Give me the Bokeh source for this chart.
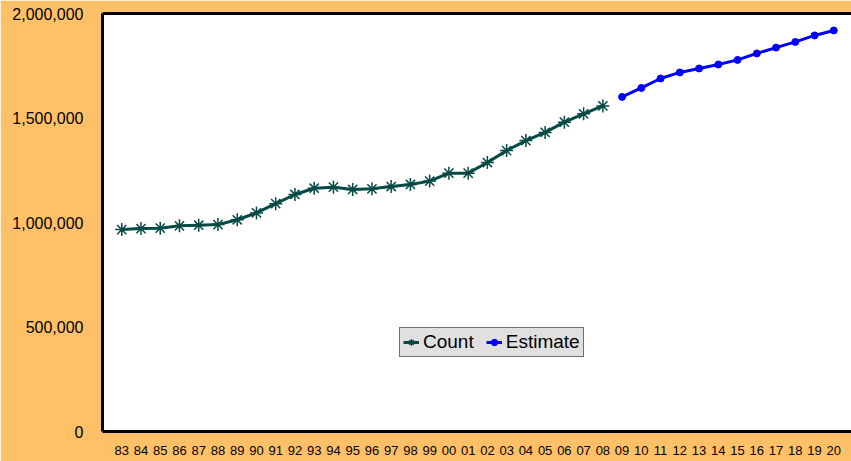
from bokeh.plotting import figure
from bokeh.models import (LinearAxis, FixedTicker, NumeralTickFormatter, Range1d, Legend)
from bokeh.embed import file_html
from bokeh.resources import INLINE

years = ["83", "84", "85", "86", "87", "88", "89", "90", "91", "92", "93", "94", "95",
         "96", "97", "98", "99", "00", "01", "02", "03", "04", "05", "06", "07", "08",
         "09", "10", "11", "12", "13", "14", "15", "16", "17", "18", "19", "20"]
count_years = years[:26]
count_values = [966000, 971000, 973000, 984000, 987000, 990000, 1013000, 1046000,
                1090000, 1134000, 1164000, 1169000, 1158000, 1161000, 1172000,
                1182000, 1198000, 1236000, 1236000, 1287000, 1344000, 1392000,
                1431000, 1480000, 1520000, 1558000]
estimate_years = years[26:]
estimate_values = [1601000, 1644000, 1689000, 1718000, 1737000, 1756000, 1778000,
                   1809000, 1837000, 1864000, 1895000, 1919000]
y_ticks = [0, 500000, 1000000, 1500000, 2000000]

BG = "#FFC068"
TEAL = "#064A46"
BLUE = "#0000FF"
FONT = "Liberation Sans"

pos = {y: i + 1 for i, y in enumerate(years)}
cx = [pos[y] for y in count_years]
ex = [pos[y] for y in estimate_years]

p = figure(width=851, height=461, output_backend="svg", toolbar_location=None,
           x_range=Range1d(0, 38.92), y_range=Range1d(0, 2000000),
           min_border_left=102, min_border_right=0, min_border_top=13, min_border_bottom=30,
           background_fill_color="white", border_fill_color=BG, outline_line_color=None)
p.xgrid.visible = False
p.ygrid.visible = False

r1 = p.line(cx, count_values, line_color=TEAL, line_width=3)
r2 = p.scatter(cx, count_values, marker="asterisk", size=13, line_color=TEAL, line_width=1.5)
r3 = p.line(ex, estimate_values, line_color=BLUE, line_width=3)
r4 = p.scatter(ex, estimate_values, marker="circle", size=7, fill_color=BLUE, line_color=BLUE)

# axes
xa = p.xaxis[0]
xa.ticker = FixedTicker(ticks=list(range(1, len(years) + 1)))
xa.major_label_overrides = {i + 1: y for i, y in enumerate(years)}
xa.axis_line_width = 3
xa.axis_line_color = "black"
xa.major_tick_line_color = None
xa.minor_tick_line_color = None
xa.major_label_text_font = FONT
xa.major_label_text_font_size = "13px"
xa.major_label_text_color = "black"
xa.major_label_standoff = 8

ya = p.yaxis[0]
ya.ticker = FixedTicker(ticks=y_ticks)
ya.formatter = NumeralTickFormatter(format="0,0")
ya.axis_line_width = 3
ya.axis_line_color = "black"
ya.major_tick_line_color = None
ya.minor_tick_line_color = None
ya.major_label_text_font = FONT
ya.major_label_text_font_size = "16px"
ya.major_label_text_color = "black"
ya.major_label_standoff = 13

top = LinearAxis(ticker=FixedTicker(ticks=[]), axis_line_width=3, axis_line_color="black",
                 major_tick_line_color=None, minor_tick_line_color=None,
                 major_label_text_font_size="0px")
p.add_layout(top, "above")

legend = Legend(items=[("Count", [r1, r2]), ("Estimate", [r3, r4])],
                location=(297, 74), orientation="horizontal",
                background_fill_color="#E0E0E0", background_fill_alpha=1,
                border_line_color="black", border_line_width=1,
                label_text_font=FONT, label_text_font_size="19px",
                label_text_color="black", glyph_width=16, glyph_height=16,
                label_standoff=4, spacing=12, padding=3, margin=0)
p.add_layout(legend, "center")

open("out.html", "w").write(file_html(p, INLINE))
